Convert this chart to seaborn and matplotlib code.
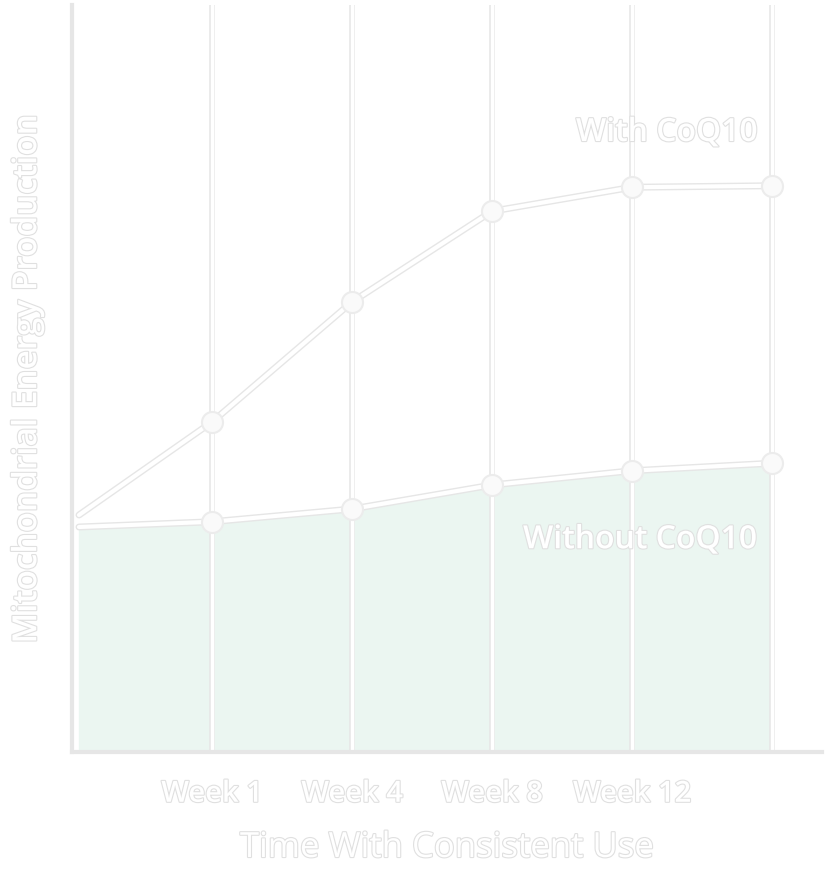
import matplotlib
import matplotlib.pyplot as plt
import matplotlib.patheffects as pe
import seaborn as sns
import pandas as pd

matplotlib.use("Agg")

# Data (arbitrary units)
x_pos = [0.05, 1, 2, 3, 4, 5]
with_coq10 = [31.6, 44.0, 60.0, 72.1, 75.3, 75.5]
without_coq10 = [30.0, 30.7, 32.4, 35.6, 37.5, 38.5]
tick_pos = [1, 2, 3, 4]
tick_labels = ["Week 1", "Week 4", "Week 8", "Week 12"]

sns.set_theme(style="white")
plt.rcParams["font.family"] = ["Open Sans", "DejaVu Sans"]

text_fx = [pe.withStroke(linewidth=1.6, foreground="#e0e0e0")]

fig = plt.figure(figsize=(8.28, 8.71), dpi=100)
ax = fig.add_axes([72 / 828, 1 - 752 / 871, 750 / 828, 747 / 871])

df = pd.DataFrame({"x": x_pos, "with": with_coq10, "without": without_coq10})

ax.fill_between(df["x"], 0, df["without"], color="#ebf6f1", zorder=1)

for xv in [1, 2, 3, 4, 5]:
    ax.axvline(xv, color="white", lw=2.5, zorder=2,
               path_effects=[pe.withStroke(linewidth=4, foreground="#e6e6e6")])

for col in ["with", "without"]:
    sns.lineplot(data=df, x="x", y=col, ax=ax, color="white", lw=3, zorder=3,
                 path_effects=[pe.withStroke(linewidth=5, foreground="#e6e6e6")])
    ax.scatter(df["x"][1:], df[col][1:], s=230, color="#fafafa", edgecolor="#ececec",
               linewidth=1.5, zorder=4)

ax.set_xlim(0, 750 / 140)
ax.set_ylim(0, 99.6)

for s in ["top", "right"]:
    ax.spines[s].set_visible(False)
for s in ["left", "bottom"]:
    ax.spines[s].set_color("#e6e6e6")
    ax.spines[s].set_linewidth(3)

ax.set_xticks(tick_pos)
ax.set_xticklabels(tick_labels, fontsize=21, fontweight="semibold", color="white",
                   path_effects=text_fx)
ax.tick_params(axis="x", length=0, pad=20)
ax.set_yticks([])

ax.set_xlabel("Time With Consistent Use", fontsize=25, color="white",
              labelpad=16, path_effects=text_fx)
ax.set_ylabel("Mitochondrial Energy Production", fontsize=24, color="white",
              fontweight="semibold", labelpad=20, path_effects=text_fx)

ax.text(4.25, 82.6, "With CoQ10", fontsize=23, fontweight="semibold", color="white",
        ha="center", va="center", path_effects=text_fx, zorder=5)
ax.text(4.06, 28.3, "Without CoQ10", fontsize=23, fontweight="semibold", color="white",
        ha="center", va="center", path_effects=text_fx, zorder=5)

fig.savefig("out.png", dpi=100)
